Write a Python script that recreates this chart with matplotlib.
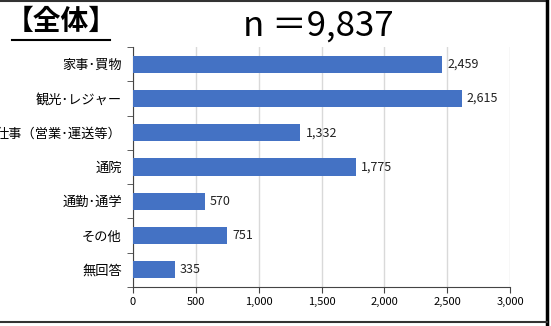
import numpy as np
import matplotlib.pyplot as plt
from matplotlib.lines import Line2D

plt.rcParams['font.family'] = ['Noto Sans CJK JP', 'DejaVu Sans']

# data
categories = ['家事･買物', '観光･レジャー', '仕事（営業･運送等）', '通院', '通勤･通学', 'その他', '無回答']
values = [2459, 2615, 1332, 1775, 570, 751, 335]
xticks = [0, 500, 1000, 1500, 2000, 2500, 3000]

fig = plt.figure(figsize=(5.51, 3.26), dpi=100)
ax = fig.add_axes([0.2414, 0.1196, 0.6842, 0.7364])

y = np.arange(len(categories))
ax.barh(y, values, height=0.5, color='#4472C4', zorder=3)
for yi, v in zip(y, values):
    ax.text(v + 40, yi, f'{v:,}', va='center', ha='left', fontsize=9, color='#222222')

ax.set_ylim(len(categories) - 0.5, -0.5)
ax.set_xlim(0, 3000)
ax.set_xticks(xticks)
ax.set_xticklabels([f'{t:,}' for t in xticks], fontsize=8)
ax.set_yticks(y)
ax.set_yticklabels(categories, fontsize=9.5)
ax.tick_params(axis='y', length=0, pad=8)
ax.set_yticks(np.arange(-0.5, len(categories), 1), minor=True)
ax.tick_params(axis='y', which='minor', length=4, color='#444444')
ax.tick_params(axis='x', length=4, color='#444444', pad=3)
ax.grid(axis='x', color='#d9d9d9', linewidth=1, zorder=0)
for s in ['top', 'right']:
    ax.spines[s].set_visible(False)
ax.spines['left'].set_color('#444444')
ax.spines['bottom'].set_color('#444444')

# titles
fig.text(0.01, 0.975, '【全体】', fontsize=20, fontweight='bold', va='top', ha='left')
fig.add_artist(Line2D([0.022, 0.2], [0.878, 0.878], color='black', linewidth=1.5))
fig.text(0.578, 0.975, 'n ＝9,837', fontsize=25, va='top', ha='center')

# frame
fig.add_artist(Line2D([0, 0.992], [0.997, 0.997], color='#333333', linewidth=1.5))
fig.add_artist(Line2D([0.992, 0.992], [0.0, 1.0], color='black', linewidth=2.5))
fig.add_artist(Line2D([0, 0.992], [0.012, 0.012], color='#333333', linewidth=1.5))

fig.savefig('out.png', dpi=100)
